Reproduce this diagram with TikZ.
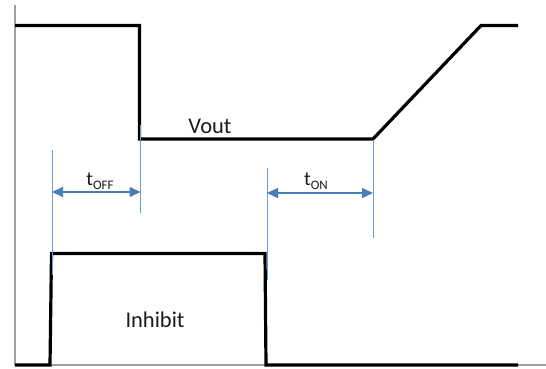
\documentclass[tikz,border=0pt]{standalone}
\usepackage{fontspec}
\setmainfont{Carlito}
\usetikzlibrary{arrows.meta}
\definecolor{axisgray}{HTML}{A0A0A0}
\definecolor{dimblue}{HTML}{4A7EBB}
\definecolor{tickblue}{HTML}{6A9BD8}
\definecolor{txt}{HTML}{1A1A1A}
\tikzset{
  wave/.style={line width=3.2pt, black, line join=miter},
  axisline/.style={line width=1.2pt, axisgray},
  tickline/.style={line width=1pt, tickblue},
  dimarrow/.style={line width=1.6pt, dimblue, {Triangle[length=11pt,width=10pt]}-{Triangle[length=11pt,width=10pt]}},
  lbl/.style={inner sep=0pt, text=txt, font=\fontsize{22.5}{26}\selectfont},
  tlbl/.style={inner sep=0pt, anchor=base, text=txt, font=\fontsize{20}{24}\selectfont}
}
\newcommand{\subtxt}[1]{{\fontsize{13}{13}\selectfont\raisebox{-4pt}{#1}}}
\begin{document}
\begin{tikzpicture}[x=1pt,y=-1pt]
\useasboundingbox (0,0) rectangle (546,369);
% axes
\coordinate (ax0) at (15,5);
\coordinate (axO) at (15,365);
\coordinate (axE) at (546,365);
\draw[axisline] (ax0) -- (axO) -- (axE);
% Vout waveform
\coordinate (v0) at (15,25.5);
\coordinate (v1) at (139.5,25.5);
\coordinate (v2) at (139.5,139);
\coordinate (v3) at (373,139);
\coordinate (v4) at (481,25.5);
\coordinate (v5) at (518,25.5);
\draw[wave] (v0) -- (v1) -- (v2) -- (v3) -- (v4) -- (v5);
% Inhibit waveform
\coordinate (i0) at (15,365);
\coordinate (i1) at (50,365);
\coordinate (i2) at (51.5,253.5);
\coordinate (i3) at (265,253.5);
\coordinate (i4) at (266,365);
\coordinate (i5) at (518,365);
\draw[wave] (i0) -- (i1) -- (i2) -- (i3) -- (i4) -- (i5);
% tick lines
\coordinate (a1) at (52,150);
\coordinate (a2) at (52,275);
\coordinate (b1) at (140.5,125);
\coordinate (b2) at (140.5,213);
\coordinate (c1) at (267,168);
\coordinate (c2) at (267,280);
\coordinate (d1) at (373,140);
\coordinate (d2) at (373,238);
\draw[tickline] (a1) -- (a2);
\draw[tickline] (b1) -- (b2);
\draw[tickline] (c1) -- (c2);
\draw[tickline] (d1) -- (d2);
% dimension arrows
\coordinate (toffL) at (52,192);
\coordinate (toffR) at (140.5,192);
\coordinate (tonL) at (267,193);
\coordinate (tonR) at (373,193);
\draw[dimarrow] (toffL) -- (toffR);
\draw[dimarrow] (tonL) -- (tonR);
% labels
\node[lbl, anchor=base] (vout) at (210,133) {Vout};
\node[lbl, anchor=base] (inhibit) at (155,327) {Inhibit};
\node[tlbl] (toff) at (100,185) {t\subtxt{OFF}};
\node[tlbl] (ton) at (316,185) {t\subtxt{ON}};
\end{tikzpicture}
\end{document}
